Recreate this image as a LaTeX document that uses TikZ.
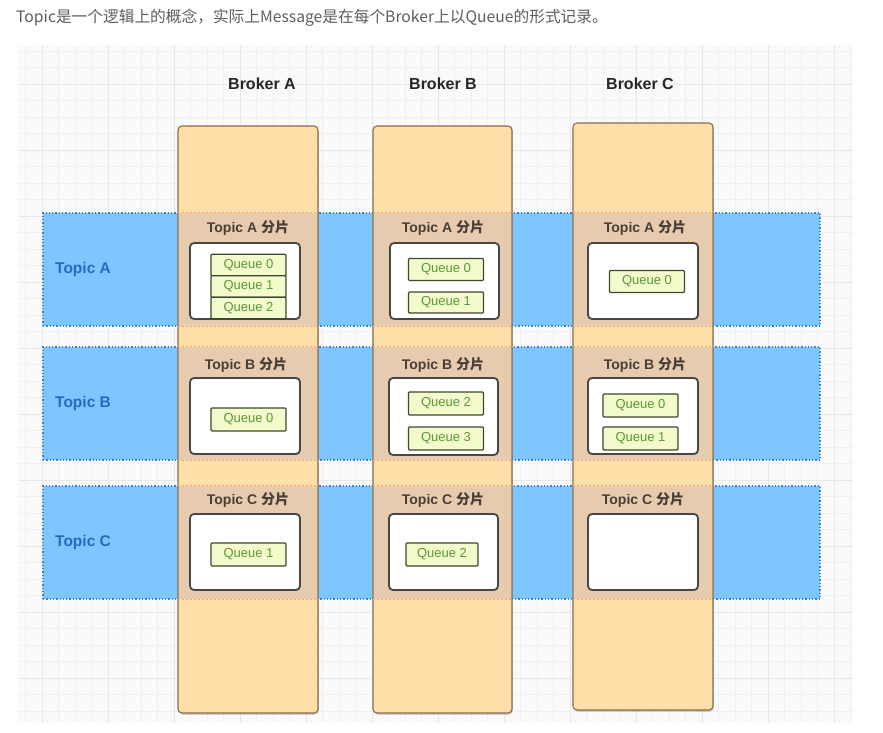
\documentclass[tikz,border=0pt]{standalone}
\usepackage{fontspec}
\setmainfont{Liberation Sans}
\newfontfamily\cjk{Noto Sans CJK SC}
\usetikzlibrary{shadows,fit}
\definecolor{gridbg}{HTML}{FAFAFA}
\definecolor{gridln}{HTML}{F0F0F0}
\definecolor{gridmj}{HTML}{E8E8E8}
\definecolor{rowfill}{HTML}{7EC6FF}
\definecolor{rowedge}{HTML}{3D7FD6}
\definecolor{rowtext}{HTML}{2B68C0}
\definecolor{colfill}{HTML}{FFDFA8}
\definecolor{coledge}{HTML}{8A6B4E}
\definecolor{cellfill}{HTML}{E7CBAF}
\definecolor{celledge}{HTML}{F2A47C}
\definecolor{celltext}{HTML}{4A3F36}
\definecolor{boxedge}{HTML}{474747}
\definecolor{qfill}{HTML}{F3FACB}
\definecolor{qedge}{HTML}{3A4A2E}
\definecolor{qtext}{HTML}{5A9A36}
\definecolor{titletext}{HTML}{5E5E5E}
\begin{document}
\begin{tikzpicture}[x=1pt,y=-1pt,
  topicrow/.style={draw=rowedge, fill=rowfill, line width=1.3pt, dotted, inner sep=0pt},
  rowlabel/.style={text=rowtext, font=\bfseries\fontsize{15.5}{18}\selectfont, anchor=west, inner sep=0pt},
  brokerbox/.style={draw=coledge, fill=colfill, line width=1.1pt, rounded corners=4pt, inner sep=0pt,
     drop shadow={shadow xshift=0.8pt, shadow yshift=-1.8pt, opacity=0.35}},
  brokerlabel/.style={text=black!85, font=\bfseries\fontsize{16}{19}\selectfont, inner sep=0pt},
  cellbox/.style={fill=cellfill, draw=none, inner sep=0pt},
  celledgeline/.style={draw=celledge, line width=1pt, dash pattern=on 2pt off 2pt},
  celltitle/.style={text=celltext, font=\bfseries\fontsize{14}{16}\selectfont, inner sep=0pt},
  whitebox/.style={draw=boxedge, fill=white, line width=1.8pt, rounded corners=4pt, inner sep=0pt},
  queue/.style={draw=qedge, fill=qfill, line width=1.3pt, rounded corners=1pt, minimum width=75pt,
     minimum height=21.5pt, inner sep=0pt, text=qtext, font=\fontsize{13}{15}\selectfont},
  titlestyle/.style={text=titletext, font=\cjk\fontsize{15.7}{18}\selectfont, anchor=west, inner sep=0pt}
]
\useasboundingbox (0,0) rectangle (883,733);
\fill[white] (0,0) rectangle (883,733);
% grid background
\fill[gridbg] (18,45) rectangle (853,723);
\foreach \gx in {25.5,42,...,853} \draw[gridln, line width=0.6pt] (\gx,45) -- (\gx,723);
\foreach \gy in {51,67.5,...,723} \draw[gridln, line width=0.6pt] (18,\gy) -- (853,\gy);
\foreach \gx in {42,108,...,853} \draw[gridmj, line width=0.8pt] (\gx,45) -- (\gx,723);
\foreach \gy in {84,150,...,723} \draw[gridmj, line width=0.8pt] (18,\gy) -- (853,\gy);

% title
\node[titlestyle] (title) at (16,18) {Topic是一个逻辑上的概念，实际上Message是在每个Broker上以Queue的形式记录。};

% topic rows
\node[topicrow, fit={(43,213) (820,326)}] (rowA) {};
\node[topicrow, fit={(43,347) (820,460)}] (rowB) {};
\node[topicrow, fit={(43,486) (820,599)}] (rowC) {};

% brokers
\node[brokerbox, fit={(178,126) (318,713)}] (bA) {};
\node[brokerbox, fit={(373,126) (512,713)}] (bB) {};
\node[brokerbox, fit={(573,123) (713,710)}] (bC) {};
\node[brokerlabel] (lbA) at (262,84) {Broker A};
\node[brokerlabel] (lbB) at (443,84) {Broker B};
\node[brokerlabel] (lbC) at (640,84) {Broker C};

% row labels
\node[rowlabel] (lA) at (55,269) {Topic A};
\node[rowlabel] (lB) at (55,403) {Topic B};
\node[rowlabel] (lC) at (55,542) {Topic C};

% cells (overlap regions)
\foreach \cn/\xl/\xr in {A/178.6/317.4, B/373.6/511.4, C/573.6/712.4}{
  \foreach \rn/\yt/\yb in {A/213/326, B/347/460, C/486/599}{
    \node[cellbox, fit={(\xl,\yt) (\xr,\yb)}] (c\cn\rn) {};
    \draw[celledgeline] (c\cn\rn.north west) -- (c\cn\rn.north east);
    \draw[celledgeline] (c\cn\rn.south west) -- (c\cn\rn.south east);
  }
}

% cell titles
\node[celltitle] (tAA) at (248,228) {Topic A \cjk 分片};
\node[celltitle] (tBA) at (443,228) {Topic A \cjk 分片};
\node[celltitle] (tCA) at (645,228) {Topic A \cjk 分片};
\node[celltitle] (tAB) at (246,365) {Topic B \cjk 分片};
\node[celltitle] (tBB) at (443,365) {Topic B \cjk 分片};
\node[celltitle] (tCB) at (645,365) {Topic B \cjk 分片};
\node[celltitle] (tAC) at (248,500) {Topic C \cjk 分片};
\node[celltitle] (tBC) at (443,500) {Topic C \cjk 分片};
\node[celltitle] (tCC) at (643,500) {Topic C \cjk 分片};

% white boxes
\node[whitebox, fit={(190,243) (300,319)}] (wAA) {};
\node[whitebox, fit={(390,243) (499,319)}] (wBA) {};
\node[whitebox, fit={(588,243) (698,319)}] (wCA) {};
\node[whitebox, fit={(190,378) (300,454)}] (wAB) {};
\node[whitebox, fit={(389,378) (498,455)}] (wBB) {};
\node[whitebox, fit={(588,378) (698,454)}] (wCB) {};
\node[whitebox, fit={(190,514) (300,590)}] (wAC) {};
\node[whitebox, fit={(389,514) (498,590)}] (wBC) {};
\node[whitebox, fit={(588,514) (698,590)}] (wCC) {};

% queues
\node[queue] (qAA0) at (248.5,265) {Queue 0};
\node[queue] (qAA1) at (248.5,286.5) {Queue 1};
\node[queue] (qAA2) at (248.5,308) {Queue 2};
\node[queue, minimum height=22pt] (qBA0) at (446,269.5) {Queue 0};
\node[queue, minimum height=21pt] (qBA1) at (446,302.5) {Queue 1};
\node[queue, minimum height=22pt] (qCA0) at (647,281.5) {Queue 0};
\node[queue, minimum height=23pt] (qAB0) at (248.5,419.5) {Queue 0};
\node[queue, minimum height=23pt] (qBB2) at (446,403.5) {Queue 2};
\node[queue, minimum height=23pt] (qBB3) at (446,438.5) {Queue 3};
\node[queue, minimum height=23pt] (qCB0) at (640.5,405.5) {Queue 0};
\node[queue, minimum height=23pt] (qCB1) at (640.5,438.5) {Queue 1};
\node[queue, minimum height=23pt] (qAC1) at (248.5,554.5) {Queue 1};
\node[queue, minimum height=23pt, minimum width=72pt] (qBC2) at (442,554.5) {Queue 2};
\end{tikzpicture}
\end{document}
